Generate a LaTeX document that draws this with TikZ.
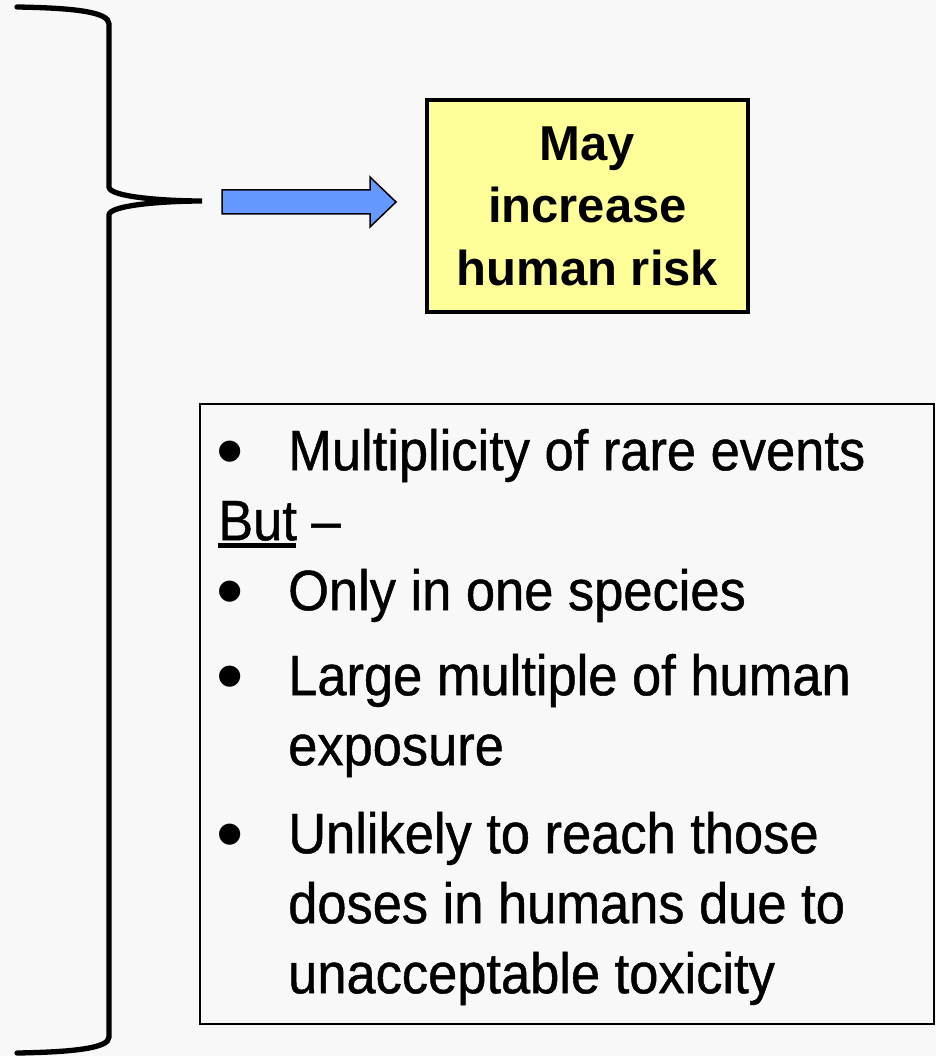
\documentclass[tikz,border=0pt]{standalone}
\usepackage{fontspec}
\setmainfont{Liberation Sans}
\newfontfamily\narrowfont[FakeStretch=0.92,FakeBold=0.8]{Liberation Sans}
\usepackage{tikz}
\usetikzlibrary{calc,positioning}
\usepackage[dvipsnames]{xcolor}
\definecolor{slidebg}{HTML}{F8F8F8}
\definecolor{noteyellow}{HTML}{FFFF99}
\definecolor{arrowblue}{HTML}{6699FF}
\newcommand\dotmark{\makebox[70pt][l]{\hspace*{-2pt}\raisebox{-7pt}{\rmfamily\fontsize{78}{70}\selectfont\textbullet}}}

\begin{document}
\begin{tikzpicture}[x=1pt, y=-1pt,
            brace/.style = {line width=5.3pt, line cap=round},
            riskbox/.style = {draw, line width=3.5pt, fill=noteyellow,
                minimum width=321pt, minimum height=212pt, align=center,
                font=\bfseries\fontsize{49}{62.5}\selectfont},
            factbox/.style = {draw, line width=2pt,
                minimum width=734pt, minimum height=620pt},
            blockarrow/.style = {draw, line width=1.5pt, line join=miter, fill=arrowblue}
            ]
            \fill[slidebg] (0,0) rectangle (936,1056);
            \useasboundingbox (0,0) rectangle (936,1056);
            % brace
            \coordinate (tip) at (202,201);
            \draw[brace] (17,7) .. controls (75,8) and (109,12) .. (109,24)
                -- (109,187) .. controls (109,197) and (165,201) .. (tip)
                .. controls (165,201) and (109,205) .. (109,215)
                -- (109,1037) .. controls (109,1048) and (75,1052) .. (17,1053);
            % arrow
            \coordinate (tail) at (222,202);
            \draw[blockarrow] ($(tail)+(0,-12)$) -- ++(148,0) -- ++(0,-13)
                -- ++(26,25) -- ++(-26,25) -- ++(0,-13) -- ++(-148,0) -- cycle;
            \node[riskbox] (risk) at (587.5,206) {May\\increase\\human risk};
            \node[factbox] (box) at (567,714) {};
            \node[anchor=north west, inner sep=0pt,
                font=\narrowfont\fontsize{57}{70}\selectfont] (facts) at (218,421) {%
                \begin{tabular}{@{}l@{}}
                \dotmark Multiplicity of rare events\\
                \rlap{\rule[-8pt]{78pt}{5pt}}But –\\
                \dotmark Only in one species\\[15pt]
                \dotmark Large multiple of human\\
                \hspace*{70pt}exposure\\[18pt]
                \dotmark Unlikely to reach those\\
                \hspace*{70pt}doses in humans due to\\
                \hspace*{70pt}unacceptable toxicity
                \end{tabular}};
        \end{tikzpicture}
\end{document}
